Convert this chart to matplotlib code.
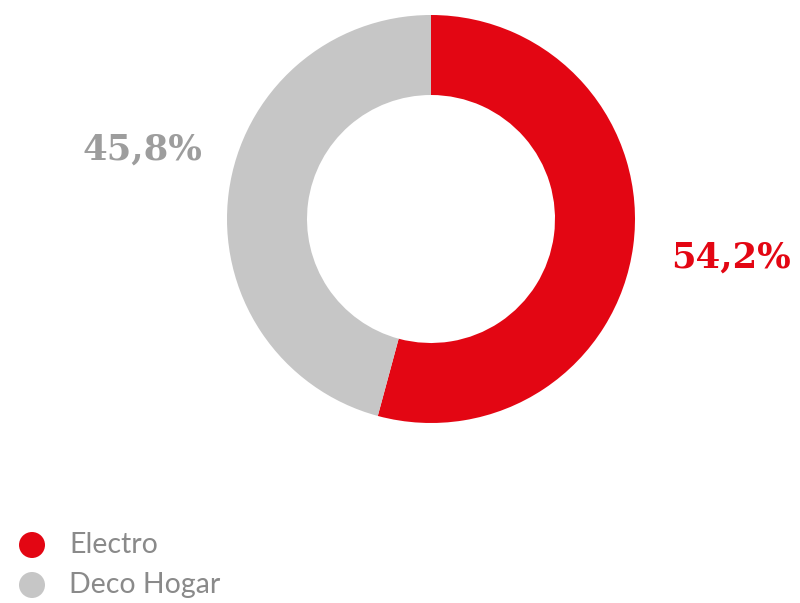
import numpy as np
import matplotlib.pyplot as plt
from matplotlib.patches import Circle

# data
categorias = ['Electro', 'Deco Hogar']
valores = [54.2, 45.8]
etiquetas = ['54,2%', '45,8%']
colores = ['#E30613', '#C6C6C6']
colores_txt = ['#E30613', '#9D9D9D']

fig = plt.figure(figsize=(8.0, 6.03), dpi=100)
ax = fig.add_axes([0, 0, 1, 1])
ax.set_xlim(0, 800)
ax.set_ylim(603, 0)
ax.set_aspect('equal')
ax.axis('off')

# donut (y axis is inverted, so counterclock=True draws clockwise on screen)
ax.pie(valores, colors=colores, startangle=-90, counterclock=True,
       center=(431, 219), radius=204,
       wedgeprops=dict(width=204 - 124, linewidth=0))
ax.set_xlim(0, 800)
ax.set_ylim(603, 0)

# percentage labels
pos_txt = [(731, 258), (142, 150)]
for (x, y), t, c in zip(pos_txt, etiquetas, colores_txt):
    ax.text(x, y, t, ha='center', va='center', fontsize=25.5,
            fontweight='bold', family='DejaVu Serif', color=c)

# legend
for i, (cat, col) in enumerate(zip(categorias, colores)):
    y = 545 + 40 * i
    ax.add_patch(Circle((32, y), 13, color=col, lw=0))
    ax.text(69, y, cat, ha='left', va='center', fontsize=20.5,
            family='Lato', color='#8A8A8A')

fig.savefig('out.png', dpi=100)
